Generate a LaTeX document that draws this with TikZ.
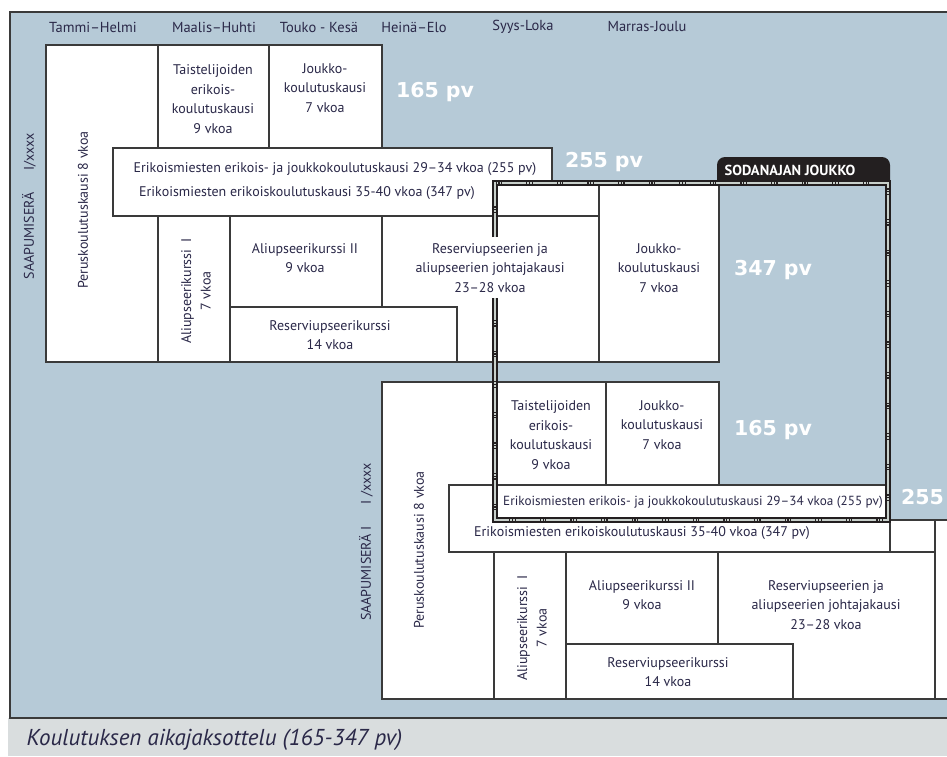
\documentclass[tikz,border=0pt]{standalone}
\usepackage{fontspec}
\setmainfont{PT Sans}
\newfontfamily\pvfont{DejaVu Sans}
\definecolor{chartbg}{RGB}{182,202,215}
\definecolor{capbg}{RGB}{217,221,222}
\definecolor{edge}{RGB}{58,58,58}
\definecolor{ink}{RGB}{42,40,72}
\definecolor{tabdark}{RGB}{35,31,32}
\definecolor{framelight}{RGB}{200,208,203}
\begin{document}
\begin{tikzpicture}[x=1pt, y=-1pt,
    box/.style={draw=edge, fill=white, line width=1.2pt},
    lbl/.style={text=ink, align=center, font=\fontsize{14}{19.5}\selectfont},
    month/.style={text=ink, font=\fontsize{14.5}{16}\selectfont},
    days/.style={text=white, font=\pvfont\bfseries\fontsize{20.5}{24}\selectfont},
    side/.style={text=ink, rotate=90, font=\fontsize{14}{16}\selectfont}]
  \useasboundingbox (0,0) rectangle (947,756);
  \clip (0,0) rectangle (947,756);

  % background and caption
  \fill[chartbg] (10,12) rectangle (947,718);
  \fill[capbg] (8,718) rectangle (947,756);
  \draw[edge, line width=1.5pt] (947,12) -- (10,12) -- (10,718) -- (947,718);
  \node[anchor=west, text=ink, font=\itshape\fontsize{23}{25}\selectfont] (caption) at (23,740) {Koulutuksen aikajaksottelu (165-347 pv)};

  % months
  \node[month] (m1) at (93,27) {Tammi–Helmi};
  \node[month] (m2) at (214,27) {Maalis–Huhti};
  \node[month] (m3) at (319,27) {Touko - Kesä};
  \node[month] (m4) at (414,27) {Heinä–Elo};
  \node[month] (m5) at (523,27) {Syys-Loka};
  \node[month] (m6) at (647,27) {Marras-Joulu};

  % saapumiserä I/xxxx
  \node[side] (era1) at (29,206) {SAAPUMISERÄ\hspace{22pt}I/xxxx};
  \draw[box] (46,45) rectangle (158,362);
  \node[lbl, rotate=90] (perus1) at (83,210) {Peruskoulutuskausi 8 vkoa};
  \draw[box] (158,45) rectangle (269,148);
  \node[lbl] (taist1) at (213,99) {Taistelijoiden\\erikois-\\koulutuskausi\\9 vkoa};
  \draw[box] (269,45) rectangle (382,148);
  \node[lbl] (joukko1) at (325,88) {Joukko-\\koulutuskausi\\7 vkoa};
  \node[days] (d165a) at (435,92) {165 pv};
  \draw[box] (158,216) rectangle (230,362);
  \node[lbl, rotate=90] (aliI1) at (196,291) {Aliupseerikurssi\ \ I\\7 vkoa};
  \draw[box] (230,216) rectangle (382,307);
  \node[lbl] (aliII1) at (305,258) {Aliupseerikurssi II\\9 vkoa};
  \draw[box] (382,216) rectangle (599,362);
  \node[lbl] (johtaja1) at (490,268) {Reserviupseerien ja\\aliupseerien johtajakausi\\23–28 vkoa};
  \draw[box] (230,307) rectangle (457,362);
  \node[lbl] (reservi1) at (330,335) {Reserviupseerikurssi\\14 vkoa};
  \draw[box] (599,183) rectangle (719,362);
  \node[lbl] (joukkob1) at (659,268) {Joukko-\\koulutuskausi\\7 vkoa};
  \node[days] (d347a) at (773,270) {347 pv};
  \draw[box] (113,148) -- (552,148) -- (552,183) -- (599,183) -- (599,216) -- (113,216) -- cycle;
  \node[lbl] (erik1) at (335,169) {Erikoismiesten erikois- ja joukkokoulutuskausi 29–34 vkoa (255 pv)};
  \node[lbl] (erikb1) at (307,193) {Erikoismiesten erikoiskoulutuskausi 35-40 vkoa (347 pv)};
  \node[days] (d255a) at (604,162) {255 pv};

  % saapumiserä I
  \node[side] (era2) at (366,542) {SAAPUMISERÄ I\hspace{22pt}I /xxxx};
  \draw[box] (382,382) rectangle (494,699);
  \node[lbl, rotate=90] (perus2) at (419,550) {Peruskoulutuskausi 8 vkoa};
  \draw[box] (494,382) rectangle (606,485);
  \node[lbl] (taist2) at (551,435) {Taistelijoiden\\erikois-\\koulutuskausi\\9 vkoa};
  \draw[box] (606,382) rectangle (719,485);
  \node[lbl] (joukko2) at (662,425) {Joukko-\\koulutuskausi\\7 vkoa};
  \node[days] (d165b) at (773,430) {165 pv};
  \draw[box] (494,552) rectangle (566,699);
  \node[lbl, rotate=90] (aliI2) at (532,628) {Aliupseerikurssi\ \ I\\7 vkoa};
  \draw[box] (566,552) rectangle (718,644);
  \node[lbl] (aliII2) at (642,595) {Aliupseerikurssi II\\9 vkoa};
  \draw[box] (718,552) rectangle (935,699);
  \node[lbl] (johtaja2) at (826,605) {Reserviupseerien ja\\aliupseerien johtajakausi\\23–28 vkoa};
  \draw[box] (566,644) rectangle (793,699);
  \node[lbl] (reservi2) at (668,672) {Reserviupseerikurssi\\14 vkoa};
  \draw[box] (935,520) rectangle (1055,699);
  \draw[box] (449,485) -- (888,485) -- (888,520) -- (935,520) -- (935,552) -- (449,552) -- cycle;
  \draw[edge, line width=1.2pt] (890,520) -- (890,552);
  \node[lbl, font=\fontsize{13.2}{15}\selectfont] (erik2) at (693,502) {Erikoismiesten erikois- ja joukkokoulutuskausi 29–34 vkoa (255 pv)};
  \node[lbl] (erikb2) at (642,533) {Erikoismiesten erikoiskoulutuskausi 35-40 vkoa (347 pv)};
  \node[days] (d255b) at (940,499) {255 pv};

  % sodanajan joukko
  \fill[tabdark, rounded corners=8pt] (717,184) -- (717,157) -- (890,157) -- (890,184);
  \node[text=white, font=\bfseries\fontsize{14.5}{16}\selectfont] (war) at (790,170) {SODANAJAN JOUKKO};
  \draw[tabdark, line width=6pt] (495,237) -- (495,183) -- (888,183) -- (888,520) -- (495,520) -- (495,298);
  \draw[framelight, line width=1.4pt, dash pattern=on 24pt off 1.2pt on 1.5pt off 1.2pt on 1.5pt off 1.2pt]
    (495,237) -- (495,183) -- (888,183) -- (888,520) -- (495,520) -- (495,298);
\end{tikzpicture}
\end{document}
